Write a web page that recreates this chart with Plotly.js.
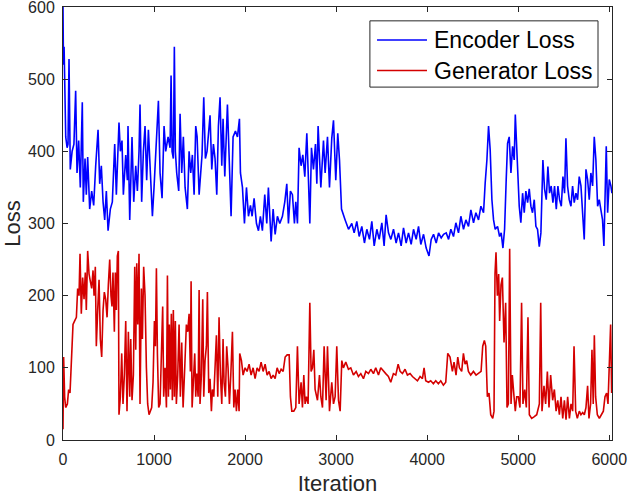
<!DOCTYPE html>
<html>
<head>
<meta charset="utf-8">
<script src="https://cdn.plot.ly/plotly-3.0.1.min.js"></script>
<style>html,body{margin:0;padding:0;background:#fff;}#chart{width:629px;height:496px;}</style>
</head>
<body>
<div id="chart"></div>
<script>
const encoderIter = [0,5,12,20,30,45,55,66,80,100,120,139,154,172,190,212,223,242,256,271,293,315,337,359,385,403,421,440,458,476,495,520,542,568,586,615,630,648,663,689,707,714,733,758,777,799,817,835,846,864,883,901,919,938,960,982,1000,1026,1048,1066,1088,1110,1128,1154,1176,1187,1198,1212,1223,1234,1249,1271,1286,1304,1322,1341,1366,1385,1403,1421,1440,1458,1473,1495,1513,1527,1546,1564,1582,1601,1615,1634,1652,1670,1689,1707,1725,1744,1758,1777,1806,1828,1846,1868,1894,1916,1938,1949,1971,1993,2015,2037,2059,2077,2099,2125,2147,2168,2190,2216,2238,2256,2286,2308,2330,2355,2381,2410,2436,2458,2476,2498,2520,2542,2557,2575,2593,2615,2634,2656,2678,2696,2711,2729,2751,2773,2788,2802,2832,2861,2879,2905,2927,2952,2971,2996,3018,3037,3059,3099,3136,3172,3198,3227,3253,3282,3311,3337,3366,3392,3418,3447,3473,3502,3527,3549,3575,3601,3630,3659,3685,3714,3740,3769,3795,3824,3850,3879,3905,3930,3960,3989,4020,4044,4070,4099,4125,4154,4180,4209,4235,4260,4289,4315,4344,4370,4399,4425,4454,4480,4509,4535,4564,4590,4619,4637,4656,4674,4692,4711,4729,4747,4773,4795,4813,4832,4850,4868,4883,4901,4920,4938,4956,4968,4993,5011,5029,5048,5066,5084,5103,5121,5139,5157,5176,5194,5212,5231,5249,5271,5289,5308,5326,5344,5362,5381,5399,5418,5436,5454,5473,5491,5509,5524,5542,5560,5579,5597,5615,5634,5652,5670,5689,5707,5725,5744,5762,5780,5798,5817,5835,5853,5872,5890,5908,5926,5941,5956,5967,5982,6000,6018,6029];
const encoderLoss = [600,520,545,470,420,405,410,528,375,400,410,484,370,415,350,468,330,390,340,392,320,345,325,380,430,355,380,330,305,345,290,320,330,410,340,440,400,415,340,395,360,435,305,420,330,380,345,400,465,330,400,435,360,430,375,310,350,410,470,370,335,435,400,420,405,505,400,390,545,400,370,345,452,370,420,350,320,400,370,395,340,435,420,340,370,395,475,390,400,425,450,375,410,390,340,435,475,380,445,365,465,380,310,420,428,420,445,370,350,300,350,310,325,310,335,300,290,310,290,340,300,350,275,320,285,310,300,310,330,355,300,345,340,300,330,300,405,380,395,365,425,360,300,405,375,410,355,435,350,415,370,420,350,418,443,360,425,388,320,305,292,300,287,303,282,296,273,292,278,303,269,292,278,301,269,312,287,278,292,273,287,269,294,273,287,271,292,278,296,271,285,266,255,278,285,273,287,280,285,287,278,292,282,301,287,310,292,305,296,319,301,315,305,324,315,356,388,435,402,333,305,292,296,282,287,266,292,361,411,420,370,407,388,451,379,324,301,342,315,345,329,348,324,315,333,296,292,268,287,388,348,333,379,342,352,329,352,320,352,333,324,365,342,418,352,333,324,352,329,342,333,365,352,310,278,375,361,333,370,352,420,388,324,333,315,305,269,352,407,315,361,352,342];

const generatorIter = [0,7,18,29,48,62,77,88,99,110,128,147,161,176,187,201,216,231,245,256,271,286,300,315,330,341,355,366,381,396,410,425,440,454,469,484,498,513,527,538,549,564,575,586,597,608,615,630,645,659,674,689,703,718,733,744,758,773,788,799,810,821,835,846,861,872,886,901,916,930,945,960,974,989,1004,1015,1026,1037,1051,1066,1081,1095,1106,1121,1136,1147,1158,1168,1179,1190,1201,1212,1223,1234,1245,1260,1275,1289,1304,1319,1337,1355,1370,1385,1399,1407,1418,1432,1447,1458,1469,1484,1495,1505,1520,1535,1546,1560,1575,1586,1601,1615,1630,1641,1656,1670,1685,1700,1714,1729,1744,1758,1769,1784,1798,1813,1828,1843,1861,1876,1890,1905,1919,1934,1941,1960,1978,2000,2022,2044,2066,2088,2110,2132,2154,2176,2198,2220,2242,2264,2286,2308,2330,2352,2374,2396,2418,2440,2462,2484,2498,2513,2535,2557,2575,2593,2615,2630,2645,2659,2674,2692,2711,2725,2740,2755,2769,2795,2817,2832,2850,2868,2890,2905,2927,2952,2971,2989,3007,3026,3044,3062,3080,3106,3135,3161,3190,3220,3245,3271,3300,3326,3355,3381,3410,3435,3465,3490,3520,3545,3574,3600,3629,3655,3681,3703,3728,3757,3783,3812,3838,3867,3893,3922,3948,3966,3984,4014,4039,4068,4094,4123,4149,4178,4204,4226,4251,4277,4295,4317,4336,4354,4379,4398,4416,4434,4453,4478,4508,4537,4562,4592,4610,4628,4643,4661,4679,4698,4720,4734,4745,4756,4771,4785,4796,4811,4826,4844,4862,4877,4892,4906,4921,4935,4954,4968,4983,5001,5019,5037,5052,5071,5089,5107,5122,5148,5173,5203,5232,5247,5261,5283,5301,5320,5338,5356,5378,5397,5416,5434,5452,5470,5489,5507,5525,5543,5562,5580,5598,5613,5631,5649,5671,5689,5708,5726,5744,5762,5777,5795,5810,5824,5836,5850,5869,5891,5913,5935,5953,5971,5986,6000,6015,6026];
const generatorLoss = [15,115,60,45,50,70,65,100,135,160,165,170,210,200,258,175,225,195,232,180,262,230,220,210,235,200,240,130,180,222,140,115,180,205,195,170,215,250,200,185,232,150,232,180,255,262,35,60,120,50,90,165,40,150,60,140,55,90,240,125,245,160,258,50,210,140,240,200,100,50,35,40,45,80,165,130,238,120,45,50,130,185,60,100,45,228,60,160,70,175,55,180,60,165,50,90,160,60,135,45,100,160,150,175,95,220,45,90,120,60,92,60,208,50,90,195,60,110,130,205,65,85,40,70,60,100,145,60,170,90,50,140,80,60,130,100,50,90,150,45,70,40,70,40,120,110,90,100,95,105,90,100,85,100,95,108,95,105,90,95,85,90,85,100,92,98,95,115,118,118,60,40,40,45,130,50,80,45,90,50,60,50,190,95,100,125,70,55,90,60,45,130,55,130,40,80,50,60,130,55,40,110,100,108,98,100,90,95,88,92,85,95,92,98,92,100,90,100,95,92,88,80,92,90,105,95,92,98,90,92,88,85,82,88,85,100,82,80,82,78,82,78,82,76,80,120,115,95,108,90,115,100,95,120,105,110,95,90,95,90,92,95,130,138,130,60,65,35,30,40,230,260,200,230,165,215,225,135,190,45,50,265,50,90,60,40,60,60,45,190,50,70,45,170,35,30,32,35,50,190,40,75,50,95,45,90,55,70,40,55,35,60,30,55,28,60,30,50,40,130,40,30,40,35,38,35,45,75,30,50,125,50,145,60,35,30,35,40,60,65,50,95,160,65];

const seriesNames = ['Encoder Loss', 'Generator Loss'];
const seriesColors = ['#0000ff', '#d40000'];
const xTicks = [0,1000,2000,3000,4000,5000,6000];
const yTicks = [0,100,200,300,400,500,600];

const axisColor = '#262626';
const data = [
  {x: encoderIter, y: encoderLoss, type: 'scatter', mode: 'lines', name: seriesNames[0],
   line: {color: seriesColors[0], width: 1.6}, showlegend: false},
  {x: generatorIter, y: generatorLoss, type: 'scatter', mode: 'lines', name: seriesNames[1],
   line: {color: seriesColors[1], width: 1.6}, showlegend: false}
];

// Legend box (MATLAB style) drawn in paper coordinates
const legendBox = {x0: 0.559, x1: 0.9745, y0: 0.815, y1: 0.968};
const legendRows = [0.9238, 0.8533];
const shapes = [{type: 'rect', xref: 'paper', yref: 'paper',
  x0: legendBox.x0, x1: legendBox.x1, y0: legendBox.y0, y1: legendBox.y1,
  line: {color: axisColor, width: 1}, fillcolor: '#ffffff', layer: 'above'}];
const annotations = [];
seriesNames.forEach((n, i) => {
  shapes.push({type: 'line', xref: 'paper', yref: 'paper', x0: 0.572, x1: 0.663,
    y0: legendRows[i], y1: legendRows[i], line: {color: seriesColors[i], width: 1.6}, layer: 'above'});
  annotations.push({xref: 'paper', yref: 'paper', x: 0.672, y: legendRows[i], xanchor: 'left',
    yanchor: 'middle', text: n, showarrow: false, font: {size: 23, color: '#000000'}});
});

const layout = {
  width: 629, height: 496,
  margin: {l: 63, r: 17, t: 7, b: 56},
  paper_bgcolor: '#ffffff', plot_bgcolor: '#ffffff',
  font: {family: 'Liberation Sans, Arial, sans-serif', color: axisColor},
  showlegend: false,
  shapes: shapes, annotations: annotations,
  xaxis: {range: [0, 6030], tickvals: xTicks, ticktext: xTicks.map(String),
    ticks: 'inside', ticklen: 5, tickcolor: axisColor, showgrid: false, zeroline: false,
    showline: true, linecolor: axisColor, linewidth: 1, mirror: 'ticks',
    tickfont: {size: 16, color: axisColor}, ticklabelstandoff: 5, ticklabeloverflow: 'allow',
    title: {text: 'Iteration', font: {size: 22, color: axisColor}, standoff: 9}},
  yaxis: {range: [0, 600], tickvals: yTicks, ticktext: yTicks.map(String),
    ticks: 'inside', ticklen: 5, tickcolor: axisColor, showgrid: false, zeroline: false,
    showline: true, linecolor: axisColor, linewidth: 1, mirror: 'ticks',
    tickfont: {size: 16, color: axisColor}, ticklabelstandoff: 4, ticklabeloverflow: 'allow',
    title: {text: 'Loss', font: {size: 22, color: axisColor}, standoff: 2}}
};
Plotly.newPlot('chart', data, layout, {displayModeBar: false, staticPlot: true});
</script>
</body>
</html>
